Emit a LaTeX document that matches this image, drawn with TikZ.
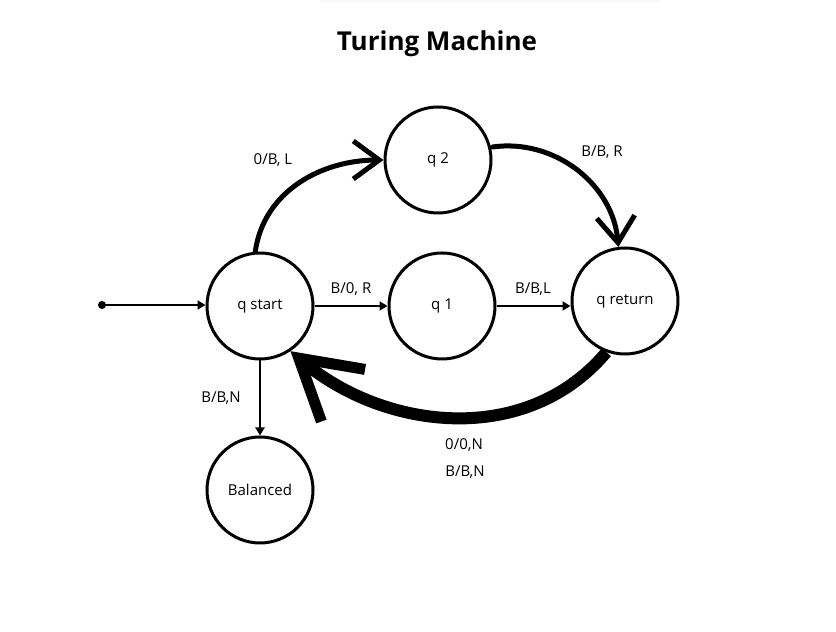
\documentclass[tikz,border=0pt]{standalone}
\usepackage{fontspec}
\setmainfont{Open Sans}
\usetikzlibrary{arrows.meta}
\tikzset{
  state/.style={circle, draw, line width=3pt, minimum size=106pt, inner sep=0pt, font=\fontsize{15}{17}\selectfont},
  lbl/.style={font=\fontsize{15}{17}\selectfont, inner sep=0pt},
  thinarrow/.style={line width=2pt, -{Triangle[length=8pt,width=9pt]}},
  medarrow/.style={line width=5pt, line cap=round, -{Straight Barb[length=26pt,width=38pt,line width=5pt]}},
  bigarrow/.style={line width=12pt, -{Straight Barb[length=58pt,width=68pt,line width=11pt]}}
}
\begin{document}
\begin{tikzpicture}[x=1pt,y=1pt]
\useasboundingbox (0,0) rectangle (836,632);
\fill[white] (0,0) rectangle (836,632);
\fill[black!3] (320,629.5) rectangle (660,632);
\node[font=\fontsize{26}{30}\selectfont\bfseries] (title) at (437,588) {Turing Machine};
\node[state] (qs) at (260,326) {q start};
\node[state] (q2) at (438,472) {q 2};
\node[state] (q1) at (442,326) {q 1};
\node[state] (qr) at (625,331) {q return};
\node[state] (bal) at (260,142) {Balanced};
\coordinate (init) at (102,327);
\fill (init) circle (4pt);
\draw[thinarrow] (init) -- (qs.west |- init);
\draw[thinarrow] (qs) -- (q1);
\draw[thinarrow] (q1.east) -- (qr.west |- q1.east);
\draw[thinarrow] (qs) -- (bal);
\draw[medarrow] (qs.95) to[out=82, in=180] (q2.west);
\draw[medarrow] (q2.east |- 0,485) to[out=8, in=95] (qr.97);
\draw[bigarrow] (qr.250) to[out=230, in=-40] (qs.-56);
\node[lbl] (l1) at (273,472) {0/B, L};
\node[lbl] (l2) at (602,480) {B/B, R};
\node[lbl] (l3) at (351,343) {B/0, R};
\node[lbl] (l4) at (533,343) {B/B,L};
\node[lbl] (l5) at (221,234) {B/B,N};
\node[lbl] (l6) at (464,187) {0/0,N};
\node[lbl] (l7) at (465,160) {B/B,N};
\end{tikzpicture}
\end{document}
